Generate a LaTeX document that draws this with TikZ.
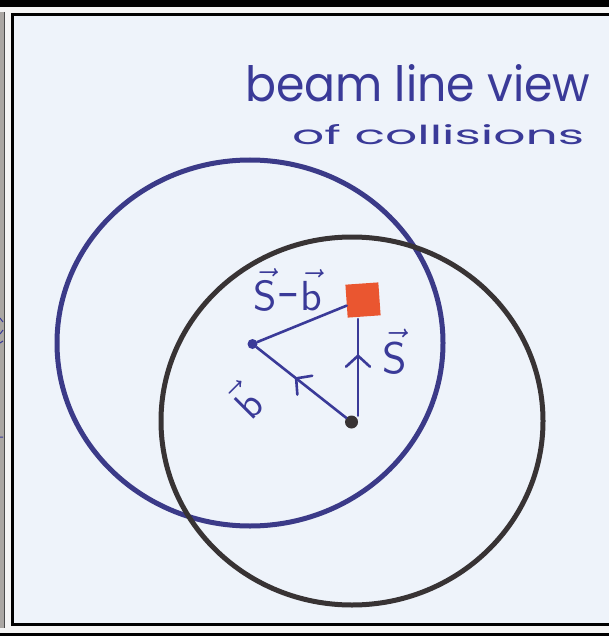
\documentclass[tikz,border=0pt]{standalone}
\usepackage{fontspec}
\setmainfont{Poppins}
\usetikzlibrary{decorations.markings}
\definecolor{paper}{HTML}{EEF3FA}
\definecolor{blueink}{HTML}{3A3A98}
\definecolor{ringblue}{HTML}{3B3A88}
\definecolor{blackink}{HTML}{383334}
\definecolor{redfill}{HTML}{EA5630}
\definecolor{strip}{HTML}{ABA7A3}
\tikzset{
  ink/.style={draw=blueink, line width=2.6pt, line cap=round},
  ring/.style={line width=5pt},
  chev/.style={postaction={decorate},
    decoration={markings, mark=at position #1 with {\draw[blueink, line width=2.6pt, line cap=round, line join=round] (-11,12) -- (0,0) -- (-11,-12);}}},
  dotnode/.style={circle, inner sep=0pt, minimum size=#1},
  lbl/.style={text=blueink, inner sep=0pt},
  titletext/.style={text=blueink, inner sep=0pt, anchor=base west}
}
\begin{document}
\begin{tikzpicture}[x=1pt,y=-1pt]
\useasboundingbox (0,0) rectangle (609,636);
\fill[white!92!gray] (0,0) rectangle (609,636);
% top bar and bottom line
\fill[black] (0,0) rectangle (609,7);
\fill[black] (0,633) rectangle (609,636);
% left strip
\fill[strip] (0,12) rectangle (4,628);
\draw[black!70, line width=1pt] (4.5,12) -- (4.5,628);
\draw[blueink, line width=1pt] (0,318) -- (3,322) (0,334) -- (3,330) (0,343) -- (3,341) (0,437) -- (3,437);
% main frame
\draw[black, line width=3pt, fill=paper] (12.5,14.5) rectangle (612,624.5);
% title
\node[titletext] (t1) at (245,102) {\resizebox{345pt}{37pt}{beam line view}};
\node[titletext] (t2) at (292,145) {\resizebox{292pt}{20pt}{of collisions}};
% rings
\draw[ringblue, ring] (250,343) ellipse [x radius=193, y radius=183];
\draw[blackink, ring] (352,421) ellipse [x radius=191, y radius=184];
% points
\node[dotnode=10pt, fill=blueink] (bd) at (252.5,344) {};
\node[dotnode=13pt, fill=blackink] (bk) at (351.5,422) {};
\node[fill=redfill, minimum width=33pt, minimum height=33pt, inner sep=0pt, rotate=4] (sq) at (363,300) {};
\coordinate (sqb) at (358,319);
% connectors
\draw[ink] (bd) -- (sq.195);
\draw[ink, chev=0.56] (bk) -- (bd);
\draw[ink, chev=0.62] (sqb |- bk.70) -- (sqb);
% labels
\node[lbl] (lsb) at (288,290) {\scalebox{4.2}{$\vec{\mathsf{S}}\mbox{-}\vec{\mathsf{b}}$}};
\node[lbl] (ls) at (395,352) {\scalebox{4.4}{$\vec{\mathsf{S}}$}};
\node[lbl, rotate=45] (lb) at (245,401) {\scalebox{4}{$\vec{\mathsf{b}}$}};
\end{tikzpicture}
\end{document}
